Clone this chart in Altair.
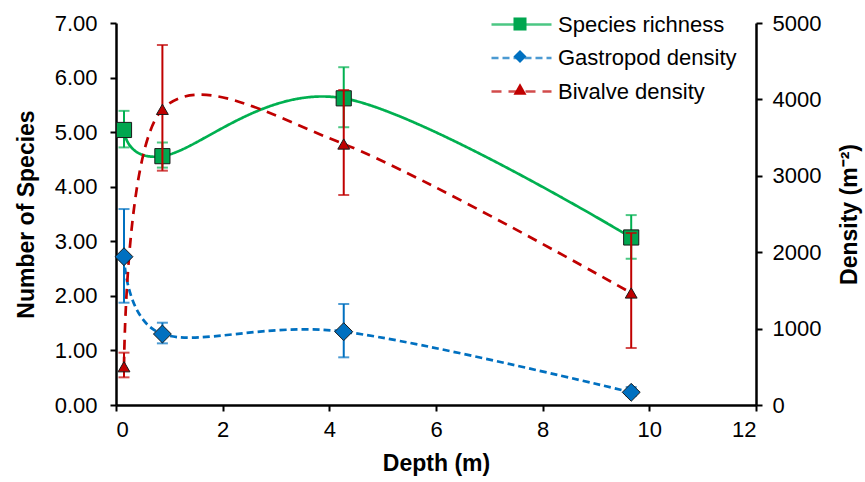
import altair as alt
import pandas as pd
import json

# ---- data ----
depth = [0.15, 0.87, 4.27, 9.66]

richness = [5.04, 4.56, 5.62, 3.07]
richness_lo = [4.72, 4.35, 5.09, 2.68]
richness_hi = [5.39, 4.81, 6.19, 3.48]

gastro = [1941, 929, 960, 166]
gastro_lo = [1339, 807, 624, 120]
gastro_hi = [2565, 1077, 1322, 235]

bival = [501, 3870, 3416, 1466]
bival_lo = [362, 3067, 2749, 746]
bival_hi = [685, 4712, 4123, 2251]

series_names = ["Species richness", "Gastropod density", "Bivalve density"]
# marker legend keys (kept distinct so Vega-Lite does not merge the two legends)
marker_keys = [n + " marker" for n in series_names]

line_colors = ["#00b050", "#0070c0", "#c00000"]
fill_colors = ["#00a64f", "#0070c0", "#c00000"]
dashes = [[1, 0], [7, 4], [10, 7]]
shapes = ["square", "diamond", "triangle-up"]
marker_sizes = [230, 320, 140]
y_left_ticks = [0, 1, 2, 3, 4, 5, 6, 7]
y_right_ticks = [0, 1000, 2000, 3000, 4000, 5000]
x_ticks = [0, 2, 4, 6, 8, 10, 12]

def frame(i, mean, lo, hi):
    return pd.DataFrame({"depth": depth, "mean": mean, "lo": lo, "hi": hi,
                         "series": series_names[i], "marker": marker_keys[i]})

sp = frame(0, richness, richness_lo, richness_hi)
den = pd.concat([frame(1, gastro, gastro_lo, gastro_hi),
                 frame(2, bival, bival_lo, bival_hi)])

FONT = "Liberation Sans"

x_enc = alt.X("depth:Q", scale=alt.Scale(domain=[0, 12], nice=False),
              axis=alt.Axis(values=x_ticks, title="Depth (m)", format="d"))

color_scale = alt.Scale(domain=series_names, range=line_colors)
dash_scale = alt.Scale(domain=series_names, range=dashes)
fill_scale = alt.Scale(domain=marker_keys, range=fill_colors)
shape_scale = alt.Scale(domain=marker_keys, range=shapes)

legend_line = alt.Legend(orient="none", legendX=394, legendY=-10, title=None,
                         symbolType="M-3,0H3", symbolSize=400, symbolStrokeWidth=2.5,
                         labelFont=FONT, labelFontSize=22, labelColor="black",
                         labelLimit=400, labelOffset=25, rowPadding=10.5, padding=0, zindex=1)
legend_pt = alt.Legend(orient="none", legendX=393, legendY=-10, title=None,
                       labelExpr="' '", symbolSize=170, symbolStrokeColor="black",
                       symbolStrokeWidth=1, symbolOpacity=1,
                       labelFont=FONT, labelFontSize=22, rowPadding=10.5, padding=0, zindex=2)

size_expr = f"{json.dumps(marker_sizes)}[indexof({json.dumps(marker_keys)}, datum.marker)]"

def group(df, y_axis, y_scale):
    def yq(field):
        return alt.Y(f"{field}:Q", scale=y_scale, axis=y_axis)
    base = alt.Chart(df).encode(x=x_enc)
    col = alt.Color("series:N", scale=color_scale, legend=legend_line)
    line = base.mark_line(interpolate="cardinal", tension=0, strokeWidth=2.7).encode(
        y=yq("mean"),
        color=col,
        strokeDash=alt.StrokeDash("series:N", scale=dash_scale, legend=legend_line),
    )
    rule = base.mark_rule(strokeWidth=2).encode(
        y=yq("lo"), y2="hi:Q", color=col,
    )
    caps = base.transform_fold(["lo", "hi"], as_=["end", "v"]).mark_tick(
        orient="horizontal", size=11, thickness=2).encode(
        y=yq("v"), color=col,
    )
    pts = base.transform_calculate(msize=size_expr).mark_point(
        filled=True, opacity=1, stroke="#1a1a1a", strokeWidth=1).encode(
        y=yq("mean"),
        fill=alt.Fill("marker:N", scale=fill_scale, legend=legend_pt),
        shape=alt.Shape("marker:N", scale=shape_scale, legend=legend_pt),
        size=alt.Size("msize:Q", scale=None, legend=None),
    )
    return alt.layer(line, rule, caps, pts)

left_axis = alt.Axis(values=y_left_ticks, format=".2f", title="Number of Species",
                     titlePadding=16, labelPadding=13)
right_axis = alt.Axis(values=y_right_ticks, format="d", title="Density (m⁻²)",
                      orient="right", titlePadding=18, titleAngle=270,
                      titleBaseline="top", labelPadding=10)

g1 = group(sp, left_axis, alt.Scale(domain=[0, 7], nice=False))
g2 = group(den, right_axis, alt.Scale(domain=[0, 5000], nice=False))

chart = alt.layer(g1, g2).resolve_scale(y="independent").properties(
    width=640, height=382,
    autosize=alt.AutoSizeParams(type="none"),
    padding={"left": 116, "top": 23, "right": 109, "bottom": 77},
    background="white",
).configure_view(stroke=None).configure_axis(
    domainColor="black", domainWidth=2.5, tickColor="black", tickWidth=2, tickSize=6,
    grid=False, labelFont=FONT, labelFontSize=22, labelColor="black", labelPadding=8,
    titleFont=FONT, titleFontSize=23, titleFontWeight="bold", titleColor="black",
).configure_axisX(titlePadding=12)

chart.save("out.html", embed_options={"renderer": "svg", "actions": False})
